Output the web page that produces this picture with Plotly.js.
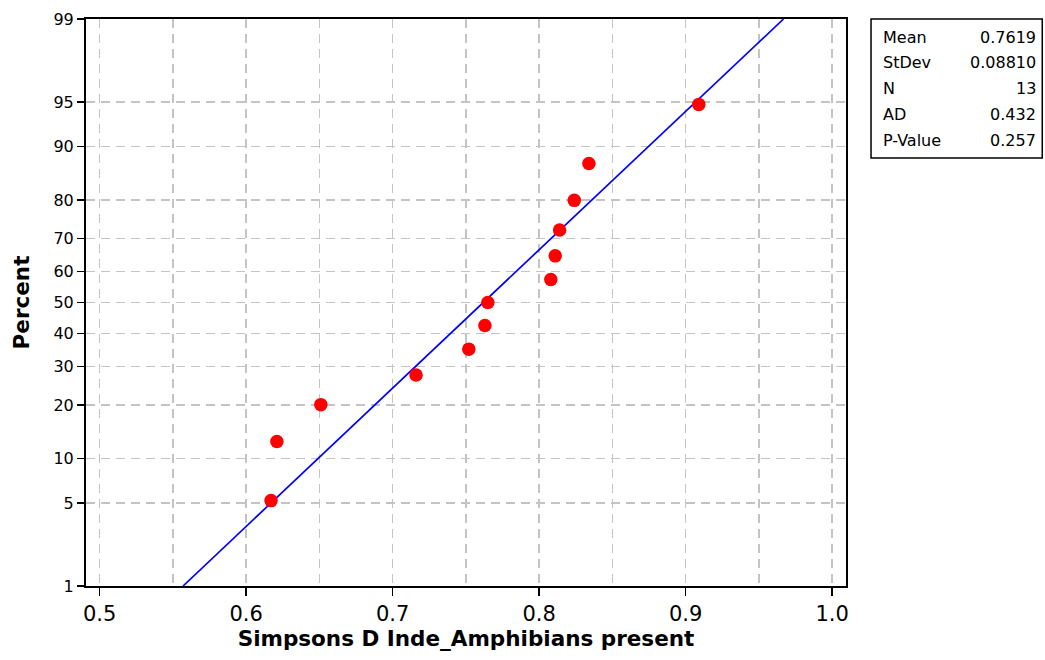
<!DOCTYPE html>
<html><head><meta charset="utf-8">
<script src="https://cdn.plot.ly/plotly-3.0.1.min.js"></script>
<style>body{margin:0;background:#fff}#chart{width:1045px;height:660px}</style>
</head><body><div id="chart"></div>
<script>
// Data
const simpsonsD = [0.617, 0.621, 0.651, 0.716, 0.752, 0.763, 0.765, 0.808, 0.811, 0.814, 0.824, 0.834, 0.909];
const percents  = [5.2, 12.7, 20.1, 27.6, 35.1, 42.5, 50.0, 57.5, 64.9, 72.4, 79.9, 87.3, 94.8];
const percentTicks = [1, 5, 10, 20, 30, 40, 50, 60, 70, 80, 90, 95, 99];
const statLabels = ["Mean", "StDev", "N", "AD", "P-Value"];
const statValues = ["0.7619", "0.08810", "13", "0.432", "0.257"];
const fitMean = 0.7619, fitStDev = 0.08810;

// inverse normal CDF (probability-scale transform)
function probit(p){
  const a=[-3.969683028665376e+01,2.209460984245205e+02,-2.759285104469687e+02,1.383577518672690e+02,-3.066479806614716e+01,2.506628277459239e+00];
  const b=[-5.447609879822406e+01,1.615858368580409e+02,-1.556989798598866e+02,6.680131188771972e+01,-1.328068155288572e+01];
  const c=[-7.784894002430293e-03,-3.223964580411365e-01,-2.400758277161838e+00,-2.549732539343734e+00,4.374664141464968e+00,2.938163982698783e+00];
  const d=[7.784695709041462e-03,3.224671290700398e-01,2.445134137142996e+00,3.754408661907416e+00];
  const pl=0.02425, ph=1-pl; let q,r;
  if(p<pl){q=Math.sqrt(-2*Math.log(p));return (((((c[0]*q+c[1])*q+c[2])*q+c[3])*q+c[4])*q+c[5])/((((d[0]*q+d[1])*q+d[2])*q+d[3])*q+1);}
  if(p<=ph){q=p-0.5;r=q*q;return (((((a[0]*r+a[1])*r+a[2])*r+a[3])*r+a[4])*r+a[5])*q/(((((b[0]*r+b[1])*r+b[2])*r+b[3])*r+b[4])*r+1);}
  q=Math.sqrt(-2*Math.log(1-p));return -(((((c[0]*q+c[1])*q+c[2])*q+c[3])*q+c[4])*q+c[5])/((((d[0]*q+d[1])*q+d[2])*q+d[3])*q+1);
}
const zPts = percents.map(p=>probit(p/100));
const zTicks = percentTicks.map(p=>probit(p/100));
const zLo = zTicks[0], zHi = zTicks[zTicks.length-1];
const lineZ = [zLo, 0, zHi];
const lineX = lineZ.map(z=>fitMean+fitStDev*z);

const FONT = "DejaVu Sans, sans-serif";
const traces = [
  {x: lineX, y: lineZ, mode:'lines', line:{color:'#0000ff', width:1.7}, hoverinfo:'skip'},
  {x: simpsonsD, y: zPts, mode:'markers', marker:{color:'#ff0000', size:13.5}, cliponaxis:false}
];
const annotations = [];
statLabels.forEach((s,i)=>{
  const y = 37 + i*25.8;
  annotations.push({xref:'paper', yref:'paper', x:(880-86)/759, y:1-(y-19)/567, text:s, showarrow:false, xanchor:'left', yanchor:'middle', font:{family:FONT, size:16, color:'#000'}});
  annotations.push({xref:'paper', yref:'paper', x:(1037-86)/759, y:1-(y-19)/567, text:statValues[i], showarrow:false, xanchor:'right', yanchor:'middle', font:{family:FONT, size:16, color:'#000'}});
});
const layout = {
  width:1045, height:660, showlegend:false,
  paper_bgcolor:'#fff', plot_bgcolor:'#fff',
  margin:{l:86, r:199, t:19, b:74},
  xaxis:{range:[0.4907,1.0095], tick0:0.5, dtick:0.1, tickformat:'.1f',
    ticks:'outside', ticklen:8, tickwidth:1.5, tickcolor:'#000',
    showgrid:true, gridcolor:'#c4c4c4', griddash:'9px,6px', gridwidth:1.5,
    minor:{dtick:0.05, tick0:0.5, showgrid:true, gridcolor:'#c4c4c4', griddash:'9px,6px', gridwidth:1.5, ticks:''},
    showline:true, linecolor:'#000', linewidth:2, mirror:true, zeroline:false,
    tickfont:{family:FONT, size:21, color:'#000'},
    title:{text:'<b>Simpsons D Inde_Amphibians present</b>', font:{family:FONT, size:21.5, color:'#000'}, standoff:6}},
  yaxis:{range:[zLo,zHi], tickmode:'array', tickvals:zTicks, ticktext:percentTicks.map(String),
    ticks:'outside', ticklen:7, tickwidth:1.5, tickcolor:'#000',
    showgrid:true, gridcolor:'#c4c4c4', griddash:'9px,6px', gridwidth:1.5,
    showline:true, linecolor:'#000', linewidth:2, mirror:true, zeroline:false,
    tickfont:{family:FONT, size:16, color:'#000'},
    title:{text:'<b>Percent</b>', font:{family:FONT, size:21.5, color:'#000'}, standoff:18}},
  shapes:[{type:'rect', xref:'paper', yref:'paper', x0:(870-86)/759, x1:(1041-86)/759, y0:1-(158-19)/567, y1:1, line:{color:'#000', width:1.5}, fillcolor:'rgba(0,0,0,0)'}],
  annotations: annotations
};
Plotly.newPlot('chart', traces, layout, {staticPlot:true});
</script></body></html>
